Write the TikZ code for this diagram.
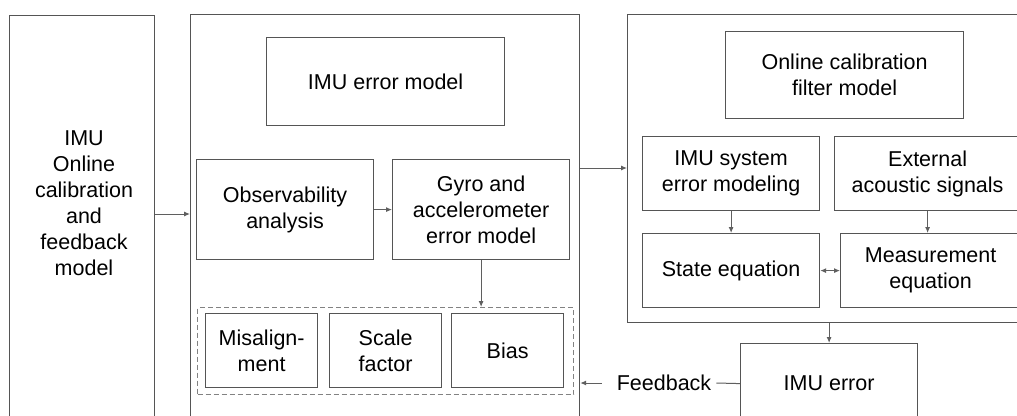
\documentclass[tikz,border=0pt]{standalone}
\usepackage{fontspec}
\setmainfont{Liberation Sans}
\usetikzlibrary{arrows.meta}
\definecolor{bcol}{RGB}{85,85,85}
\definecolor{acol}{RGB}{95,95,95}
\definecolor{dcol}{RGB}{130,130,130}
\begin{document}
\begin{tikzpicture}[x=1pt,y=-1pt,
  box/.style={draw=bcol,line width=1.2pt,inner sep=0pt,anchor=north west,align=center,
    font=\fontsize{21.5}{26}\selectfont},
  txt/.style={inner sep=0pt,align=center,font=\fontsize{21.5}{26}\selectfont},
  arr/.style={draw=acol,line width=1pt,-{Latex[length=6pt,width=5pt]}},
  dbl/.style={draw=acol,line width=1pt,{Latex[length=6pt,width=5pt]}-{Latex[length=6pt,width=5pt]}},
  ln/.style={draw=acol,line width=1pt}]
\useasboundingbox (0,0) rectangle (1017,415);
\clip (0,0) rectangle (1017,415);
\fill[white] (0,0) rectangle (1017,415);
% outer boxes
\node[box,minimum width=145pt,minimum height=430pt] (left) at (9,15) {};
\node[txt] (lefttxt) at (84,203) {IMU\\Online\\calibration\\and\\feedback\\model};
\node[box,minimum width=389pt,minimum height=430pt] (mid) at (190,14) {};
\node[box,minimum width=430pt,minimum height=308pt] (right) at (627,14) {};
% middle column
\node[box,minimum width=238pt,minimum height=88pt] (errmodel) at (266,37) {IMU error model};
\node[box,minimum width=177pt,minimum height=100pt] (obs) at (196,159) {Observability\\analysis};
\node[box,minimum width=177pt,minimum height=100pt] (gyro) at (392,159) {Gyro and\\accelerometer\\error model};
\node[box,draw=dcol,dashed,dash pattern=on 5pt off 3pt,minimum width=376pt,minimum height=87pt] (dash) at (197,307) {};
\node[box,minimum width=112pt,minimum height=74pt] (mis) at (205,313) {Misalign-\\ment};
\node[box,minimum width=112pt,minimum height=74pt] (scale) at (329,313) {Scale\\factor};
\node[box,minimum width=112pt,minimum height=74pt] (bias) at (451,313) {Bias};
% right column
\node[box,minimum width=238pt,minimum height=87pt] (ocf) at (725,31) {Online calibration\\filter model};
\node[box,minimum width=177pt,minimum height=74pt] (imusys) at (642,136) {IMU system\\error modeling};
\node[box,minimum width=186pt,minimum height=74pt] (ext) at (834,136) {External\\acoustic signals};
\node[box,minimum width=177pt,minimum height=74pt] (state) at (642,233) {State equation};
\node[box,minimum width=180pt,minimum height=74pt] (meas) at (840,233) {Measurement\\equation};
\node[box,minimum width=177pt,minimum height=80pt] (imuerr) at (740,343) {IMU error};
\node[txt,inner xsep=5pt] (fb) at (664,383) {Feedback};
% connectors
\draw[arr] ([yshift=-199pt]left.north east) -- ([yshift=-199pt]left.north east -| mid.west);
\draw[arr] (obs.east) -- (gyro.west);
\draw[arr] (gyro.south) -- (gyro.south |- dash.north);
\draw[arr] ([yshift=-154pt]mid.north east) -- ([yshift=-154pt]mid.north east -| right.west);
\draw[arr] (imusys.south) -- (state.north);
\draw[arr] (ext.south) -- (ext.south |- meas.north);
\draw[dbl] (state.east) -- (state.east -| meas.west);
\draw[arr] (right.south -| imuerr.north) -- (imuerr.north);
\draw[ln] (imuerr.west) -- (fb.east);
\draw[arr] ([xshift=-10pt]fb.west) -- (fb.west -| mid.east);
\end{tikzpicture}
\end{document}
